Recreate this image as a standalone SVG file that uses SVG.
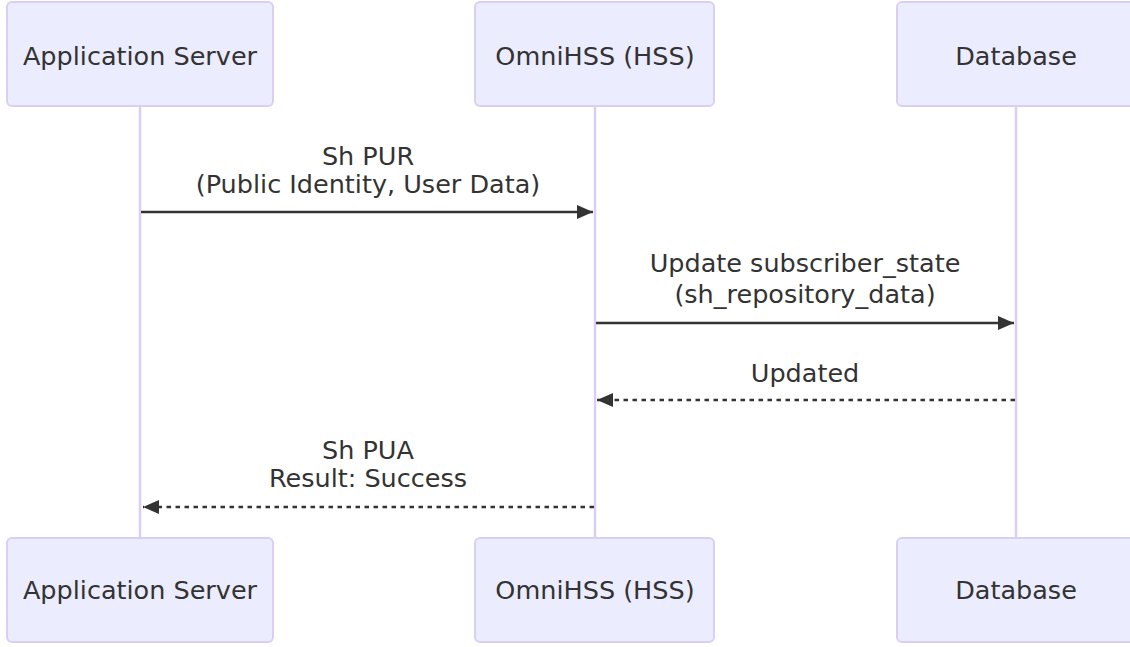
<svg xmlns="http://www.w3.org/2000/svg" width="1130" height="647" viewBox="0 0 1130 647">
<style>
.actor{fill:#ECECFF;stroke:#DACEF3;stroke-width:2}
.life{stroke:#DACEF3;stroke-width:2.5}
.atext{font-family:"DejaVu Sans",Verdana,sans-serif;font-size:25.5px;fill:#333;text-anchor:middle;dominant-baseline:central}
.mtext{font-family:"DejaVu Sans",Verdana,sans-serif;font-size:25.5px;fill:#333;text-anchor:middle;dominant-baseline:central}
.msg{stroke:#333;stroke-width:2.5;fill:none}
.dash{stroke-dasharray:4.5,4.5}
</style>
<defs>
<marker id="arrow" markerWidth="18" markerHeight="16" refX="16" refY="7" markerUnits="userSpaceOnUse" orient="auto">
<path d="M 0 0 L 16 7 L 0 14 z" fill="#333"/>
</marker>
</defs>
<g id="lifelines">
<line class="life" x1="140" y1="106" x2="140" y2="538"/>
<line class="life" x1="595" y1="106" x2="595" y2="538"/>
<line class="life" x1="1016" y1="106" x2="1016" y2="538"/>
</g>
<g id="actor-as-top"><rect class="actor" x="7" y="2" width="266" height="104" rx="5"/><text class="atext" x="140" y="56">Application Server</text></g>
<g id="actor-hss-top"><rect class="actor" x="475" y="2" width="239" height="104" rx="5"/><text class="atext" x="595" y="56">OmniHSS (HSS)</text></g>
<g id="actor-db-top"><rect class="actor" x="897" y="2" width="238" height="104" rx="5"/><text class="atext" x="1016" y="56">Database</text></g>
<g id="actor-as-bottom"><rect class="actor" x="7" y="538" width="266" height="104" rx="5"/><text class="atext" x="140" y="590">Application Server</text></g>
<g id="actor-hss-bottom"><rect class="actor" x="475" y="538" width="239" height="104" rx="5"/><text class="atext" x="595" y="590">OmniHSS (HSS)</text></g>
<g id="actor-db-bottom"><rect class="actor" x="897" y="538" width="238" height="104" rx="5"/><text class="atext" x="1016" y="590">Database</text></g>
<g id="connectors">
<line class="msg" x1="141" y1="212" x2="593" y2="212" marker-end="url(#arrow)"/>
<line class="msg" x1="596" y1="323" x2="1014" y2="323" marker-end="url(#arrow)"/>
<line class="msg dash" x1="1015" y1="400" x2="597" y2="400" marker-end="url(#arrow)"/>
<line class="msg dash" x1="594" y1="507" x2="143" y2="507" marker-end="url(#arrow)"/>
</g>
<g id="labels">
<text class="mtext" x="368" y="156">Sh PUR</text>
<text class="mtext" x="368" y="184">(Public Identity, User Data)</text>
<text class="mtext" x="805" y="263">Update subscriber_state</text>
<text class="mtext" x="805" y="294">(sh_repository_data)</text>
<text class="mtext" x="805" y="373">Updated</text>
<text class="mtext" x="368" y="450">Sh PUA</text>
<text class="mtext" x="368" y="478">Result: Success</text>
</g>
</svg>
